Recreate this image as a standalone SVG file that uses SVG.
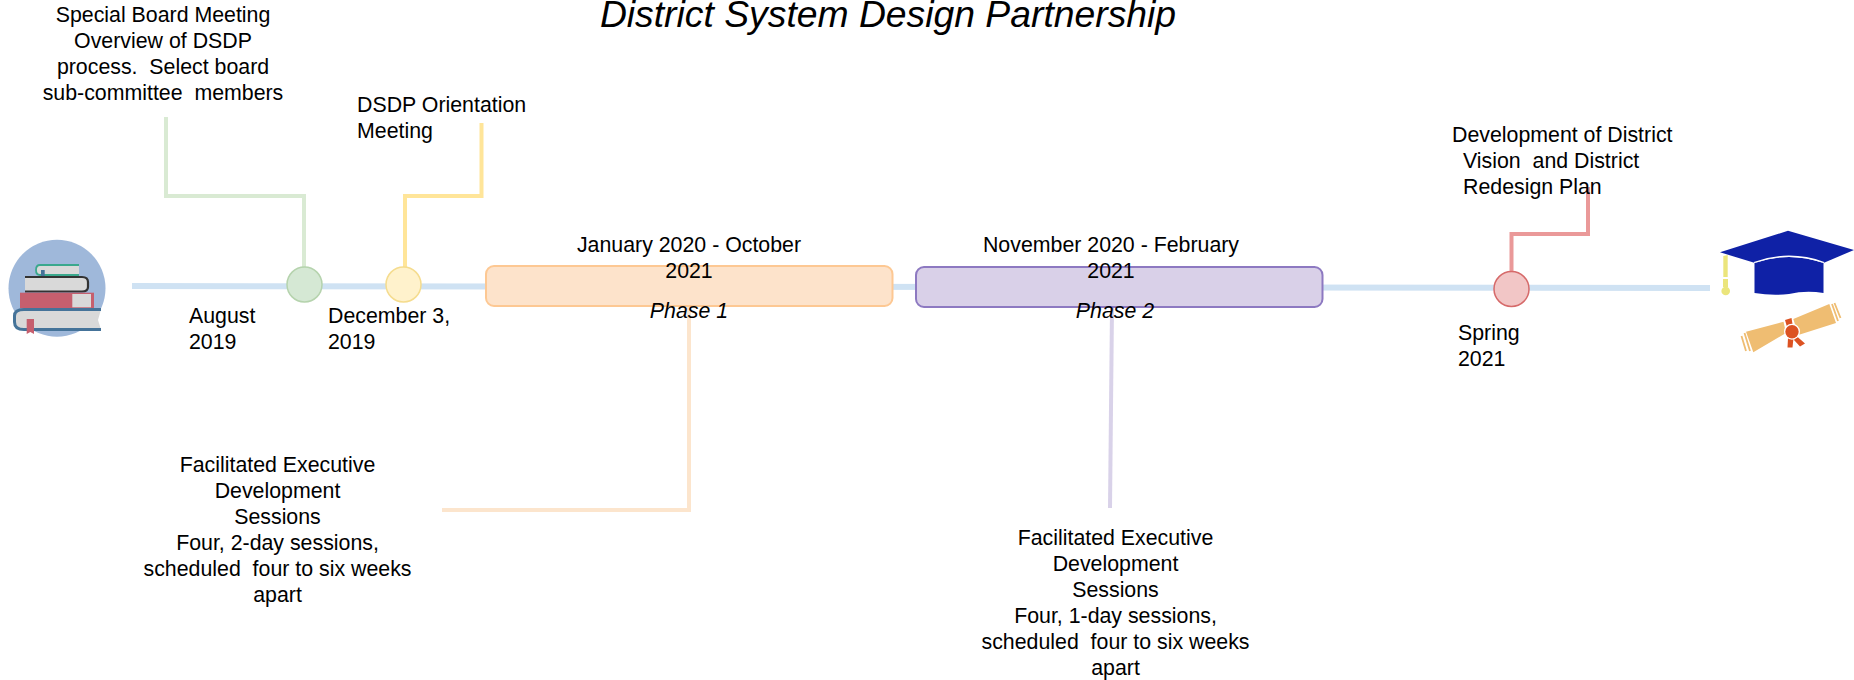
<svg xmlns="http://www.w3.org/2000/svg" width="1854" height="680" viewBox="0 0 1854 680">
<style>
text{font-family:"Liberation Sans",Arial,sans-serif;font-size:21.33px;fill:#000;white-space:pre}
.c{text-anchor:middle}
.i{font-style:italic}
.t{font-size:37.3px;font-style:italic}
.l{fill:none;stroke-width:4;stroke-linejoin:miter}
</style>
<rect width="1854" height="680" fill="#fff"/>
<g id="connectors">
<path d="M132 286L1710 288" fill="none" stroke="#cfe2f3" stroke-width="6"/>
<path class="l" stroke="#d9ead3" d="M166 117V196H304V268"/>
<path class="l" stroke="#ffe599" d="M481.500 123V196H405V268"/>
<path class="l" stroke="#fce5cd" d="M442 510H689V306"/>
<path class="l" stroke="#d9d2e9" d="M1112 307L1110 508"/>
<path class="l" stroke="#ea9999" d="M1588 187V234H1511.500V272"/>
</g>
<g id="title"><text class="t c" x="888" y="27">District System Design Partnership</text></g>
<g id="books">
<circle cx="57" cy="288.300" r="48.500" fill="#9fb8da"/>
<path d="M79 265H40Q35 265 36 270Q35 275 40 275H79Z" fill="#d9d9d9"/>
<path d="M79 265H40Q36 265 36 270Q36 275 40 275H79" fill="none" stroke="#3aa88d" stroke-width="1.800"/>
<rect x="41" y="270" width="3.700" height="7" fill="#457399"/>
<path d="M25 277H82Q88 277 88 282V287Q88 291.500 82 291.500H25Z" fill="#d9d9d9"/>
<path d="M25 277H82Q88 277 88 282V287Q88 291.500 82 291.500H25" fill="none" stroke="#333" stroke-width="2.200"/>
<rect x="20" y="292.700" width="74" height="15.500" fill="#c65f6e"/>
<rect x="72.300" y="294" width="18.700" height="13.300" fill="#d9d9d9"/>
<path d="M101 309.500H24Q14.500 309.500 14.500 316V322Q14.500 329.500 24 329.500H101L98 320Z" fill="#d9d9d9"/>
<path d="M101 309.500H24Q14.500 309.500 14.500 316V322Q14.500 329.500 24 329.500H101" fill="none" stroke="#457399" stroke-width="3"/>
<path d="M26.700 319H34V334L30.300 332L26.700 334Z" fill="#c65f6e"/>
</g>
<g id="node-aug"><circle cx="304.500" cy="284.500" r="17.500" fill="#d5e8d4" stroke="#b5d3ad" stroke-width="1.500"/><text x="189" y="323">August</text><text x="189" y="349">2019</text></g>
<g id="node-dec"><circle cx="403.500" cy="284.500" r="17.500" fill="#fff2cc" stroke="#f5dc8e" stroke-width="1.500"/><text x="328" y="323">December 3,</text><text x="328" y="349">2019</text></g>
<g id="phase1"><rect x="486" y="266" width="406.500" height="40" rx="8" fill="#fde3cb" stroke="#fdc893" stroke-width="2"/>
<text class="c" x="689" y="251.500">January 2020 - October</text><text class="c" x="689" y="277.500">2021</text><text class="c i" x="689" y="317.500">Phase 1</text></g>
<g id="phase2"><rect x="916" y="267" width="406.500" height="40" rx="8" fill="#d9d0e8" stroke="#8d79c1" stroke-width="2"/>
<text class="c" x="1111" y="251.500">November 2020 - February</text><text class="c" x="1111" y="277.500">2021</text><text class="c i" x="1115" y="317.500">Phase 2</text></g>
<g id="node-spring"><circle cx="1511.500" cy="289" r="17.500" fill="#f2c6c6" stroke="#d66a6a" stroke-width="1.500"/><text x="1458" y="340">Spring</text><text x="1458" y="366">2021</text></g>
<g id="note-board"><text class="c" x="163" y="21.500">Special Board Meeting</text><text class="c" x="163" y="47.500">Overview of DSDP</text><text class="c" x="163" y="73.500">process.  Select board</text><text class="c" x="163" y="99.500">sub-committee  members</text></g>
<g id="note-orient"><text x="357" y="111.500">DSDP Orientation</text><text x="357" y="137.500">Meeting</text></g>
<g id="note-plan"><text x="1452" y="141.500">Development of District</text><text x="1463" y="167.500">Vision  and District</text><text x="1463" y="193.500">Redesign Plan</text></g>
<g id="note-p1"><text class="c" x="277.500" y="472">Facilitated Executive</text><text class="c" x="277.500" y="498">Development</text><text class="c" x="277.500" y="524">Sessions</text><text class="c" x="277.500" y="550">Four, 2-day sessions,</text><text class="c" x="277.500" y="576">scheduled  four to six weeks</text><text class="c" x="277.500" y="602">apart</text></g>
<g id="note-p2"><text class="c" x="1115.500" y="545">Facilitated Executive</text><text class="c" x="1115.500" y="571">Development</text><text class="c" x="1115.500" y="597">Sessions</text><text class="c" x="1115.500" y="623">Four, 1-day sessions,</text><text class="c" x="1115.500" y="649">scheduled  four to six weeks</text><text class="c" x="1115.500" y="675">apart</text></g>
<g id="grad">
<path d="M1720 252.300L1788 230.700L1854 250L1824 262.700Q1789 250 1754.300 262.700Z" fill="#0f21a6"/>
<path d="M1754.500 263Q1789 251 1823.500 263V293Q1806 290 1789 294Q1772 296 1754.500 293Z" fill="#0f21a6"/>
<path d="M1754 262.500Q1789 250 1824 262.500" fill="none" stroke="#fff" stroke-width="1.300"/>
<path d="M1723.300 256L1727.700 255V277H1723.300Z" fill="#ebe57c"/>
<rect x="1723" y="279" width="5" height="8" fill="#ebe57c"/>
<circle cx="1725.700" cy="291" r="4.300" fill="#ebe57c"/>
<path d="M1746 331.700L1783.500 321.700L1786 333L1753.300 352.300Z M1793.300 319L1829.300 304L1836 323L1798.300 335Z" fill="#efbd72"/>
<path d="M1741.500 336L1746 351M1744.500 333L1750 351M1832 304L1838 321M1834.500 303L1840.500 318" stroke="#efbd72" stroke-width="1.800" fill="none"/>
<path d="M1785 320L1791.500 318L1793 327H1787ZM1788 338H1793.500L1792.500 347.500H1787.500ZM1796.500 336L1805 343.500L1800 346.500L1794 340Z" fill="#dc5222"/>
<circle cx="1792" cy="331.700" r="8" fill="#fff"/>
<circle cx="1792" cy="331.700" r="6.700" fill="#dc5222"/>
</g>
</svg>
